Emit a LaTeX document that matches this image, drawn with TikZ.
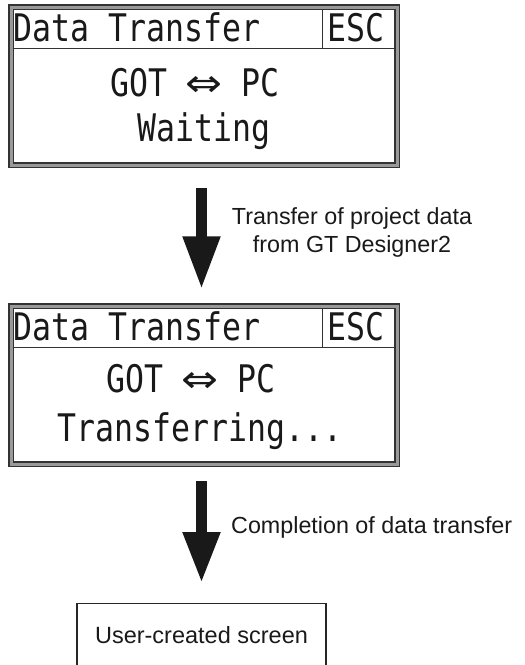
\documentclass[tikz,border=0pt]{standalone}
\usepackage{fontspec}
\usepackage{graphicx}
\setmainfont{Liberation Sans}
\newfontfamily\lcdfont{DejaVu Sans Mono}
\newfontfamily\symfont{DejaVu Sans}
\usetikzlibrary{arrows.meta, positioning, calc}

\newcommand{\lcdtext}[1]{\scalebox{0.83}[1]{\lcdfont #1}}
\newcommand{\lcdarrow}{\scalebox{1.4}[1]{\symfont ⇔}}

\begin{document}
\begin{tikzpicture}[x=1pt, y=-1pt,
    screen/.style={draw=black!80, line width=1.5pt, double=black!40, double distance=3pt,
                   minimum width=386pt, minimum height=158pt, inner sep=0pt},
    lcd/.style={inner sep=0pt, text=black!90, font=\fontsize{38}{40}\selectfont},
    divider/.style={draw=black!80, line width=1.2pt},
    flow/.style={draw=black!90, line width=11pt, -{Triangle[length=53pt, width=35pt]}},
    note/.style={inner sep=0pt, text=black!90, font=\fontsize{23.3}{28}\selectfont},
    usrbox/.style={draw=black!85, line width=1.2pt, minimum width=249pt, inner sep=0pt,
                   text height=40pt, text depth=30pt, text=black!90,
                   font=\fontsize{23.5}{28}\selectfont},
  ]
  \useasboundingbox (0,0) rectangle (525,665);
  \clip (0,0) rectangle (525,665);

  % waiting screen
  \node[screen] (scrA) at (204,86) {};
  \draw[divider] ($(scrA.north west)+(3,42)$) -- ($(scrA.north east)+(-3,42)$);
  \draw[divider] ($(scrA.north west)+(312,3)$) -- ($(scrA.north west)+(312,42)$);
  \node[lcd, anchor=base west] (ttlA) at ($(scrA.north west)+(3,35)$) {\lcdtext{Data Transfer}};
  \node[lcd, anchor=base west] (escA) at ($(scrA.north west)+(317,35)$) {\lcdtext{ESC}};
  \node[lcd, anchor=base] (linkA) at ($(scrA.north)+(-9,90)$) {\lcdtext{GOT \lcdarrow{} PC}};
  \node[lcd, anchor=base] (stateA) at ($(scrA.north)+(0,135)$) {\lcdtext{Waiting}};

  % transferring screen
  \node[screen] (scrB) at (204,385) {};
  \draw[divider] ($(scrB.north west)+(3,42)$) -- ($(scrB.north east)+(-3,42)$);
  \draw[divider] ($(scrB.north west)+(312,3)$) -- ($(scrB.north west)+(312,42)$);
  \node[lcd, anchor=base west] (ttlB) at ($(scrB.north west)+(3,35)$) {\lcdtext{Data Transfer}};
  \node[lcd, anchor=base west] (escB) at ($(scrB.north west)+(317,35)$) {\lcdtext{ESC}};
  \node[lcd, anchor=base] (linkB) at ($(scrB.north)+(-13,87)$) {\lcdtext{GOT \lcdarrow{} PC}};
  \node[lcd, anchor=base] (stateB) at ($(scrB.north)+(-4,136)$) {\lcdtext{Transferring...}};

  % result
  \node[usrbox, anchor=north] (usr) at (201.5,603) {User-created screen};

  % steps
  \node[note, align=center] (lblA) at (352,232) {Transfer of project data\\from GT Designer2};
  \node[note, anchor=base west] (lblB) at (231,533) {Completion of data transfer};
  \draw[flow] ($(scrA.south -| usr.north)+(0,22)$) -- ($(scrB.north -| usr.north)+(0,-16)$);
  \draw[flow, -{Triangle[length=51pt, width=35pt]}] ($(scrB.south -| usr.north)+(0,16)$) -- ($(usr.north)+(0,-20)$);
\end{tikzpicture}
\end{document}
